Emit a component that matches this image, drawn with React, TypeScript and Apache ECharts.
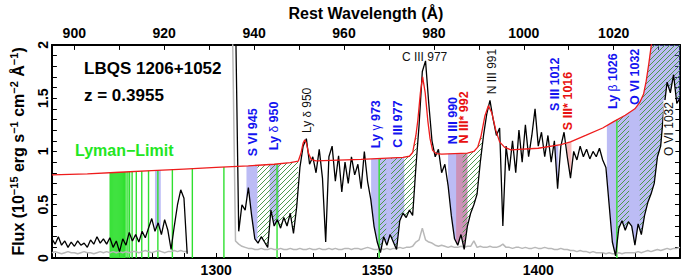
import React, { useEffect, useRef } from "react";
import * as echarts from "echarts";

const FONT = "'Liberation Sans', Arial, Helvetica, sans-serif";
const Z = 0.3955;
const OBS_MIN = 1249;
const OBS_MAX = 1444;
const FLUX_MAX = 2;

// Spectrum sampled on a 1 Å grid (observed frame) starting at SPEC_START
const SPEC_START = 1249;
const SPEC_STEP = 1;
const FLUX: (number | null)[] = [
  0.18, 0.13, 0.2, 0.12, 0.16, 0.1, 0.15, 0.11, 0.16, 0.12,
  0.14, 0.1, 0.17, 0.13, 0.2, 0.14, 0.18, 0.13, 0.19, 0.1,
  0.16, 0.06, 0.18, 0.12, 0.24, 0.16, 0.22, 0.15, 0.25, 0.19,
  0.28, 0.37, 0.25, 0.33, 0.22, 0.36, 0.26, 0.08, 0.3, 0.5,
  0.64, 0.56, 0.04, null, null, null, null, null, null, null,
  null, null, null, null, null, null, null, 2.3, 0.25, 0.5,
  0.45, 0.66, 0.4, 0.18, 0.14, 0.2, 0.15, 0.1, 0.45, 0.3,
  0.36, 0.28, 0.38, 0.3, 0.42, 0.23, 0.48, 0.85, 1.05, 1.12,
  0.88, 0.95, 0.8, 1.02, 0.75, 0.15, 0.95, 1.05, 0.72, 0.96,
  0.62, 0.9, 0.7, 0.95, 0.78, 0.88, 0.65, 1.0, 0.72, 0.55,
  0.3, 0.15, 0.05, 0.2, 0.12, 0.22, 0.15, 0.08, 0.35, 0.42,
  0.38, 0.45, 0.4, 0.85, 1.25, 1.75, 1.85, 1.45, 1.1, 0.95,
  1.02, 0.8, 0.88, 0.68, 0.4, 0.18, 0.12, 0.22, 0.08, 0.3,
  0.42, 0.5, 0.6, 0.9, 1.15, 1.35, 1.48, 1.3, 1.15, 1.22,
  0.3, 1.05, 0.82, 1.1, 0.8, 1.2, 0.9, 1.25, 0.95, 1.15,
  1.4, 1.05, 1.18, 0.95, 1.15, 0.9, 1.1, 0.65, 1.05, 1.18,
  0.95, 0.75, 1.0, 0.92, 1.05, 0.95, 1.02, 0.93, 1.0, 0.95,
  1.03, 0.92, 0.85, 0.5, 0.15, 0.02, 0.28, 0.35, 0.26, 0.34,
  0.3, 0.12, 0.32, 0.22, 0.4, 0.52, 0.6, 0.7, 0.95, 1.05,
  1.4, 1.65, 1.55, 1.72, 1.45, 1.5,
];
const ERR: (number | null)[] = [
  0.05, 0.06, 0.05, 0.04, 0.05, 0.06, 0.05, 0.05, 0.04, 0.05,
  0.06, 0.05, 0.05, 0.04, 0.05, 0.06, 0.05, 0.06, 0.05, 0.06,
  0.05, 0.06, 0.05, 0.06, 0.05, 0.06, 0.06, 0.05, 0.06, 0.07,
  0.06, 0.05, 0.06, 0.07, 0.06, 0.05, 0.06, 0.06, 0.07, 0.06,
  0.07, 0.06, 0.06, null, null, null, null, null, null, null,
  null, null, null, null, null, null, 2.3, 0.16, 0.13, 0.11,
  0.1, 0.09, 0.09, 0.08, 0.08, 0.09, 0.08, 0.08, 0.09, 0.08,
  0.08, 0.09, 0.08, 0.08, 0.09, 0.08, 0.08, 0.09, 0.08, 0.08,
  0.09, 0.08, 0.08, 0.09, 0.08, 0.08, 0.09, 0.08, 0.09, 0.08,
  0.08, 0.09, 0.09, 0.08, 0.09, 0.09, 0.08, 0.09, 0.1, 0.09,
  0.08, 0.08, 0.09, 0.08, 0.09, 0.08, 0.09, 0.09, 0.1, 0.09,
  0.1, 0.1, 0.11, 0.15, 0.17, 0.28, 0.17, 0.15, 0.14, 0.12,
  0.11, 0.12, 0.11, 0.1, 0.11, 0.1, 0.1, 0.11, 0.1, 0.11,
  0.11, 0.16, 0.1, 0.11, 0.1, 0.1, 0.11, 0.1, 0.1, 0.11,
  0.13, 0.1, 0.1, 0.09, 0.1, 0.1, 0.09, 0.1, 0.09, 0.09,
  0.1, 0.09, 0.09, 0.1, 0.09, 0.09, 0.08, 0.08, 0.09, 0.08,
  0.08, 0.07, 0.07, 0.06, 0.07, 0.06, 0.06, 0.05, 0.06, 0.05,
  0.05, 0.05, 0.04, 0.05, 0.04, 0.04, 0.05, 0.04, 0.05, 0.05,
  0.05, 0.05, 0.06, 0.05, 0.06, 0.07, 0.06, 0.07, 0.08, 0.07,
  0.08, 0.09, 0.08, 0.09, 0.09, 0.1,
];

// Continuum + emission model (red)
const CONT_WAVE = [
  1249, 1260, 1270, 1280, 1290, 1300, 1310, 1318, 1323, 1325.5,
  1326.3, 1327.0, 1327.5, 1328.0, 1328.7, 1329.5, 1331, 1345, 1358, 1360,
  1361, 1362, 1362.6, 1363.4, 1364.1, 1364.9, 1365.7, 1366.4, 1367.2, 1368.3,
  1370, 1378, 1380, 1381.2, 1382.2, 1383.4, 1384.5, 1385.6, 1386.8, 1388,
  1389.5, 1391.5, 1400, 1407, 1410, 1414.7, 1420, 1423.4, 1427, 1430,
  1431.5, 1432.7, 1433.5, 1434.3, 1435.1, 1436, 1438, 1444,
];
const CONT_FLUX = [
  0.78, 0.79, 0.805, 0.82, 0.835, 0.85, 0.865, 0.88, 0.895, 0.91,
  0.98, 1.08, 1.11, 1.08, 0.98, 0.925, 0.912, 0.925, 0.945, 0.955,
  0.99, 1.15, 1.29, 1.55, 1.7, 1.55, 1.29, 1.12, 1.01, 0.98,
  0.975, 0.985, 1.0, 1.04, 1.14, 1.33, 1.43, 1.36, 1.2, 1.09,
  1.04, 1.015, 1.03, 1.065, 1.09, 1.15, 1.22, 1.28, 1.34, 1.4,
  1.46, 1.54, 1.66, 1.82, 2.0, 2.25, 2.8, 4.0,
];

// Lyman series lines of the absorber (observed wavelength)
const LYMAN_LINES = [
  1267.1, 1267.4, 1267.7, 1268.0, 1268.3, 1268.6, 1268.9, 1269.2, 1269.5, 1269.8,
  1270.1, 1270.4, 1270.7, 1271.0, 1271.3, 1271.6, 1272.0, 1272.6, 1273.1, 1273.9,
  1275.2, 1276.9, 1279.0, 1281.9, 1286.4, 1292.6, 1302.4, 1318.9, 1350.6, 1424.4,
];

const BLUE_REGIONS = [
  [1281.0, 1282.8], [1309.4, 1312.8], [1316.6, 1319.6], [1348.1, 1358.4],
  [1372.0, 1378.0], [1404.8, 1406.2], [1421.3, 1444],
];
const PINK_REGIONS = [[1374.5, 1378.0], [1408.8, 1410.3]];
const HATCH_REGIONS = [
  [1312.8, 1325.4], [1350.8, 1352.8], [1354.3, 1362.2], [1376.5, 1382.5],
  [1424.6, 1428.2], [1431.5, 1444],
];

const OBS_TICKS = [1250, 1260, 1270, 1280, 1290, 1300, 1310, 1320, 1330, 1340, 1350, 1360, 1370, 1380, 1390, 1400, 1410, 1420, 1430, 1440];
const OBS_LABELS = [1300, 1350, 1400];
const REST_TICKS = [900, 910, 920, 930, 940, 950, 960, 970, 980, 990, 1000, 1010, 1020, 1030];
const REST_LABELS = [900, 920, 940, 960, 980, 1000, 1020];
const FLUX_TICKS = [0, 0.1, 0.2, 0.3, 0.4, 0.5, 0.6, 0.7, 0.8, 0.9, 1, 1.1, 1.2, 1.3, 1.4, 1.5, 1.6, 1.7, 1.8, 1.9, 2];
const FLUX_LABELS = [0, 0.5, 1, 1.5, 2];

// Line identifications: kind b = blue bold, r = red bold, k = black normal
const LINE_IDS = [
  { text: "S VI 945", wave: 1311.3, flux: 1.18, kind: "b", rot: true },
  { text: "Ly {g|δ} 950", wave: 1318.1, flux: 1.24, kind: "b", rot: true },
  { text: "Ly {g|δ} 950", wave: 1328.3, flux: 1.385, kind: "k", rot: true },
  { text: "Ly {g|γ} 973", wave: 1349.7, flux: 1.256, kind: "b", rot: true },
  { text: "C III 977", wave: 1356.5, flux: 1.256, kind: "b", rot: true },
  { text: "C III 977", wave: 1364.7, flux: 1.89, kind: "k", rot: false },
  { text: "N III 990", wave: 1373.5, flux: 1.29, kind: "b", rot: true },
  { text: "N III* 992", wave: 1376.9, flux: 1.32, kind: "r", rot: true },
  { text: "N III 991", wave: 1385.6, flux: 1.75, kind: "k", rot: true },
  { text: "S III 1012", wave: 1405.1, flux: 1.63, kind: "b", rot: true },
  { text: "S III* 1016", wave: 1409.3, flux: 1.474, kind: "r", rot: true },
  { text: "Ly {g|β} 1026", wave: 1423.2, flux: 1.66, kind: "b", rot: true },
  { text: "O VI 1032", wave: 1429.9, flux: 1.7, kind: "b", rot: true },
  { text: "O VI 1032", wave: 1440.7, flux: 1.21, kind: "k", rot: true, bg: true },
];

function specAt(w: number): number {
  const i = (w - SPEC_START) / SPEC_STEP;
  const i0 = Math.max(0, Math.min(FLUX.length - 1, Math.floor(i)));
  const i1 = Math.min(FLUX.length - 1, i0 + 1);
  const a = FLUX[i0];
  const b = FLUX[i1];
  if (a == null && b == null) return 0;
  if (a == null) return b as number;
  if (b == null) return a;
  const t = i - i0;
  return a + (b - a) * t;
}

function contAt(w: number): number {
  if (w <= CONT_WAVE[0]) return CONT_FLUX[0];
  for (let i = 1; i < CONT_WAVE.length; i++) {
    if (w <= CONT_WAVE[i]) {
      const t = (w - CONT_WAVE[i - 1]) / (CONT_WAVE[i] - CONT_WAVE[i - 1]);
      return CONT_FLUX[i - 1] + (CONT_FLUX[i] - CONT_FLUX[i - 1]) * t;
    }
  }
  return CONT_FLUX[CONT_FLUX.length - 1];
}

const clampF = (v: number) => Math.max(0, Math.min(FLUX_MAX, v));

function regionPoints(a: number, b: number, api: any) {
  const ws: number[] = [a];
  for (let k = 0; k < FLUX.length; k++) {
    const w = SPEC_START + k * SPEC_STEP;
    if (w > a && w < b) ws.push(w);
  }
  ws.push(b);
  const upperWs = ws.slice();
  CONT_WAVE.forEach((w) => {
    if (w > a && w < b) upperWs.push(w);
  });
  upperWs.sort((x, y) => x - y);
  const pts: number[][] = [];
  ws.forEach((w) => {
    const lo = Math.min(specAt(w), contAt(w));
    pts.push(api.coord([w, clampF(lo)]));
  });
  for (let k = upperWs.length - 1; k >= 0; k--) {
    const w = upperWs[k];
    pts.push(api.coord([w, clampF(contAt(w))]));
  }
  return pts;
}

function makeHatch(): string {
  const c = document.createElement("canvas");
  c.width = 5;
  c.height = 5;
  const ctx = c.getContext("2d");
  if (ctx) {
    ctx.strokeStyle = "#4e984e";
    ctx.lineWidth = 1;
    ctx.beginPath();
    ctx.moveTo(0, 5);
    ctx.lineTo(5, 0);
    ctx.moveTo(-1, 1);
    ctx.lineTo(1, -1);
    ctx.moveTo(4, 6);
    ctx.lineTo(6, 4);
    ctx.stroke();
  }
  return c.toDataURL();
}

function buildOption() {
  const hatch = makeHatch();
  const gridPairs = (arr: (number | null)[]) =>
    arr.map((v, k) => [SPEC_START + k * SPEC_STEP, v]);

  const fillSeries = (regions: number[][], fill: any) => ({
    type: "custom",
    coordinateSystem: "cartesian2d",
    clip: true,
    silent: true,
    data: regions.map((r) => [r[0], 0]),
    renderItem: (params: any, api: any) => {
      const r = regions[params.dataIndex];
      return {
        type: "polygon",
        shape: { points: regionPoints(r[0], r[1], api) },
        style: { fill, stroke: null },
      };
    },
  });

  const colorOf = (kind: string) => (kind === "b" ? "#1414f0" : kind === "r" ? "#e81010" : "#111111");

  const axisLine = { show: true, onZero: false, lineStyle: { color: "#000", width: 2 } };
  const tick = (vals: number[]) => ({
    show: true,
    inside: true,
    length: 5,
    customValues: vals,
    lineStyle: { color: "#000", width: 1 },
  });
  const labelStyle = {
    color: "#000",
    fontSize: 14,
    fontWeight: "bold",
    fontFamily: FONT,
    formatter: (v: number) => String(v),
  };

  return {
    animation: false,
    backgroundColor: "#fff",
    grid: { left: 50, right: 20, top: 43, bottom: 21, containLabel: false },
    xAxis: [
      {
        type: "value",
        min: OBS_MIN,
        max: OBS_MAX,
        position: "bottom",
        axisLine,
        axisTick: tick(OBS_TICKS),
        axisLabel: { ...labelStyle, customValues: OBS_LABELS, margin: 5 },
        splitLine: { show: false },
      },
      {
        type: "value",
        min: OBS_MIN / (1 + Z),
        max: OBS_MAX / (1 + Z),
        position: "top",
        axisLine,
        axisTick: tick(REST_TICKS),
        axisLabel: { ...labelStyle, customValues: REST_LABELS, margin: 5 },
        splitLine: { show: false },
        name: "Rest Wavelength (Å)",
        nameLocation: "middle",
        nameGap: 23,
        nameTextStyle: { color: "#000", fontSize: 16, fontWeight: "bold", fontFamily: FONT },
      },
    ],
    yAxis: [
      {
        type: "value",
        min: 0,
        max: FLUX_MAX,
        position: "left",
        axisLine,
        axisTick: tick(FLUX_TICKS),
        axisLabel: { ...labelStyle, customValues: FLUX_LABELS, rotate: 90, margin: 2 },
        splitLine: { show: false },
        name: "Flux (10{s|−15} erg s{s|−1} cm{s|−2} Å{s|−1})",
        nameLocation: "middle",
        nameGap: 22,
        nameTextStyle: {
          color: "#000",
          fontSize: 16,
          fontWeight: "bold",
          fontFamily: FONT,
          lineHeight: 20,
          rich: {
            s: {
              color: "#000",
              fontSize: 11,
              fontWeight: "bold",
              fontFamily: FONT,
              verticalAlign: "top",
              lineHeight: 20,
            },
          },
        },
      },
      {
        type: "value",
        min: 0,
        max: FLUX_MAX,
        position: "right",
        axisLine,
        axisTick: tick(FLUX_TICKS),
        axisLabel: { show: false },
        splitLine: { show: false },
      },
    ],
    graphic: [
      {
        type: "text",
        left: 84,
        top: 60,
        style: { text: "LBQS 1206+1052", fill: "#000", fontSize: 17, fontWeight: "bold", fontFamily: FONT },
      },
      {
        type: "text",
        left: 84,
        top: 87,
        style: { text: "z = 0.3955", fill: "#000", fontSize: 17, fontWeight: "bold", fontFamily: FONT },
      },
      {
        type: "text",
        left: 75,
        top: 142,
        style: { text: "Lyman−Limit", fill: "#22e622", fontSize: 16, fontWeight: "bold", fontFamily: FONT },
      },
    ],
    series: [
      fillSeries(BLUE_REGIONS, "rgba(95,95,230,0.42)"),
      fillSeries(PINK_REGIONS, "rgba(235,70,70,0.35)"),
      fillSeries(HATCH_REGIONS, {
        image: hatch,
        repeat: "repeat",
        imageWidth: 5,
        imageHeight: 5,
      }),
      {
        type: "line",
        data: gridPairs(ERR),
        showSymbol: false,
        symbol: "none",
        connectNulls: false,
        silent: true,
        lineStyle: { color: "#b8b8b8", width: 1.5 },
      },
      {
        type: "line",
        data: gridPairs(FLUX),
        showSymbol: false,
        symbol: "none",
        connectNulls: false,
        silent: true,
        lineStyle: { color: "#000", width: 1.3 },
      },
      {
        type: "custom",
        coordinateSystem: "cartesian2d",
        clip: true,
        silent: true,
        data: LYMAN_LINES.map((w) => [w, 0]),
        renderItem: (params: any, api: any) => {
          const w = LYMAN_LINES[params.dataIndex];
          const p0 = api.coord([w, 0]);
          const p1 = api.coord([w, clampF(contAt(w))]);
          return {
            type: "line",
            shape: { x1: p0[0], y1: p0[1], x2: p1[0], y2: p1[1] },
            style: { stroke: "#30e030", lineWidth: 1.4 },
          };
        },
      },
      {
        type: "line",
        data: CONT_WAVE.map((w, k) => [w, CONT_FLUX[k]]),
        showSymbol: false,
        symbol: "none",
        silent: true,
        lineStyle: { color: "#ee1c1c", width: 1.3 },
      },
      {
        type: "custom",
        coordinateSystem: "cartesian2d",
        clip: false,
        silent: true,
        z: 5,
        data: LINE_IDS.map((l) => [l.wave, l.flux]),
        renderItem: (params: any, api: any) => {
          const l = LINE_IDS[params.dataIndex];
          const p = api.coord([l.wave, l.flux]);
          const fill = colorOf(l.kind);
          const bold = l.kind !== "k";
          const size = bold ? 12.5 : 12;
          return {
            type: "text",
            x: p[0],
            y: p[1],
            rotation: l.rot ? Math.PI / 2 : 0,
            style: {
              text: l.text,
              fill,
              fontSize: size,
              fontWeight: bold ? "bold" : "normal",
              fontFamily: FONT,
              align: "center",
              verticalAlign: "middle",
              backgroundColor: (l as any).bg ? "#ffffff" : undefined,
              padding: (l as any).bg ? [0, 2, 0, 2] : 0,
              rich: {
                g: { fill, fontSize: size - 0.5, fontWeight: "normal", fontFamily: FONT },
              },
            },
          };
        },
      },
    ],
  };
}

export default function App() {
  const ref = useRef<HTMLDivElement>(null);
  useEffect(() => {
    if (!ref.current) return;
    const chart = echarts.init(ref.current, undefined, { renderer: "svg" });
    chart.setOption(buildOption() as any);
    return () => chart.dispose();
  }, []);
  return (
    <div
      ref={ref}
      style={{ position: "absolute", left: 0, top: 0, width: 700, height: 279, background: "#fff" }}
    />
  );
}
